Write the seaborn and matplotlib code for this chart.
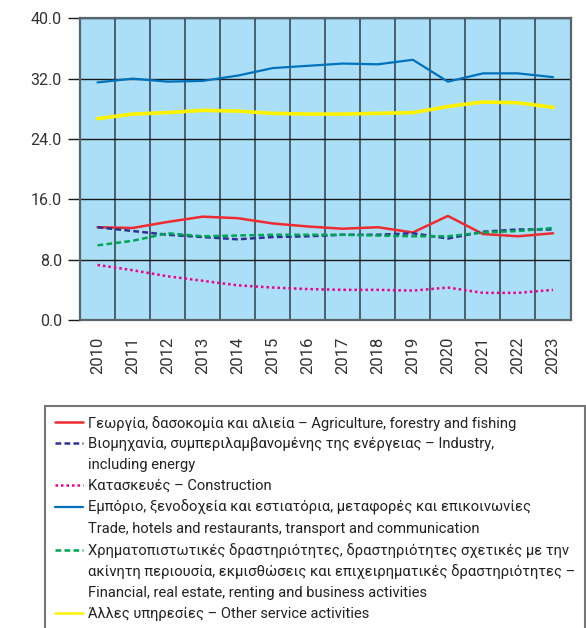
import pandas as pd
import matplotlib.pyplot as plt
import seaborn as sns
from matplotlib.lines import Line2D

# DATA (share of gross value added, %)
years = [str(y) for y in range(2010, 2024)]
agriculture = [12.3, 12.2, 13.0, 13.7, 13.5, 12.8, 12.4, 12.1, 12.3, 11.6, 13.8, 11.4, 11.1, 11.5]
industry = [12.3, 11.8, 11.3, 11.0, 10.7, 11.0, 11.1, 11.3, 11.3, 11.5, 10.8, 11.7, 12.0, 12.0]
construction = [7.3, 6.6, 5.8, 5.2, 4.6, 4.3, 4.1, 4.0, 4.0, 3.9, 4.3, 3.6, 3.6, 4.0]
trade = [31.5, 32.0, 31.6, 31.7, 32.4, 33.4, 33.7, 34.0, 33.9, 34.5, 31.6, 32.7, 32.7, 32.2]
finance = [9.9, 10.5, 11.5, 11.1, 11.2, 11.3, 11.3, 11.3, 11.2, 11.1, 11.1, 11.6, 11.8, 12.2]
other = [26.7, 27.3, 27.5, 27.8, 27.7, 27.4, 27.3, 27.3, 27.4, 27.5, 28.3, 28.9, 28.8, 28.2]

labels = [
    ["Γεωργία, δασοκομία και αλιεία – Agriculture, forestry and fishing"],
    ["Βιομηχανία, συμπεριλαμβανομένης της ενέργειας – Industry,", "including energy"],
    ["Κατασκευές – Construction"],
    ["Εμπόριο, ξενοδοχεία και εστιατόρια, μεταφορές και επικοινωνίες",
     "Trade, hotels and restaurants, transport and communication"],
    ["Χρηματοπιστωτικές δραστηριότητες, δραστηριότητες σχετικές με την",
     "ακίνητη περιουσία, εκμισθώσεις και επιχειρηματικές δραστηριότητες –",
     "Financial, real estate, renting and business activities"],
    ["Άλλες υπηρεσίες – Other service activities"],
]

series = [agriculture, industry, construction, trade, finance, other]
colors = ['#ee2b2f', '#2e3192', '#ec008c', '#0072bc', '#00a651', '#fff200']
styles = ['-', (0, (2.3, 1.3)), (0, (1, 1.2)), '-', (0, (2.3, 1.3)), '-']
widths = [1.8, 1.8, 1.8, 1.6, 1.8, 2.6]

sns.set_theme(style="white")
plt.rcParams['font.family'] = ['Roboto', 'DejaVu Sans']

fig = plt.figure(figsize=(5.86, 6.28), dpi=100)
ax = fig.add_axes([80 / 586, 1 - 320 / 628, 490.5 / 586, 301.7 / 628])
ax.set_facecolor('#abdff8')

handles = []
for vals, c, ls, lw in zip(series, colors, styles, widths):
    df = pd.DataFrame({'year': years, 'value': vals})
    sns.lineplot(data=df, x='year', y='value', color=c, linestyle=ls, linewidth=lw, ax=ax)
    handles.append(Line2D([0], [0], color=c, linestyle=ls, linewidth=lw if lw < 2 else 1.8))

ax.set_xlim(-0.5, len(years) - 0.5)
ax.set_ylim(0, 40)
ax.set_yticks([0, 8, 16, 24, 32, 40])
ax.set_yticklabels(['0.0', '8.0', '16.0', '24.0', '32.0', '40.0'])
ax.set_xticks(range(len(years)))
ax.set_xticklabels(years, rotation=90)
ax.set_xticks([i + 0.5 for i in range(len(years) - 1)], minor=True)
ax.set_xlabel('')
ax.set_ylabel('')

ax.grid(axis='y', which='major', color='#1a1a1a', linewidth=1.0)
ax.grid(axis='x', which='minor', color='#3a4a55', linewidth=1.2)
ax.set_axisbelow(True)
ax.tick_params(axis='y', which='major', length=9, width=1.0, color='#1a1a1a',
               labelsize=11.5, labelcolor='#333333', pad=4, left=True)
ax.tick_params(axis='x', which='both', length=0, labelsize=12, labelcolor='#333333', pad=12)
for s in ax.spines.values():
    s.set_color('#5a646b')
    s.set_linewidth(1.6)

# legend: one row per text line, continuation lines get an empty handle
blank = Line2D([0], [0], color='none')
leg_handles, leg_labels = [], []
for h, lab in zip(handles, labels):
    for i, line in enumerate(lab):
        leg_handles.append(h if i == 0 else blank)
        leg_labels.append(line)

leg = fig.legend(leg_handles, leg_labels, loc='upper left',
                 bbox_to_anchor=(45 / 586, 1 - 406 / 628), borderaxespad=0,
                 fontsize=10.6, frameon=True, fancybox=False, handlelength=1.95,
                 handletextpad=0.3, labelspacing=0.46, borderpad=0.65,
                 labelcolor='#222222')
leg.get_frame().set_edgecolor('#555555')
leg.get_frame().set_linewidth(1.5)

fig.savefig('out.png', dpi=100)
